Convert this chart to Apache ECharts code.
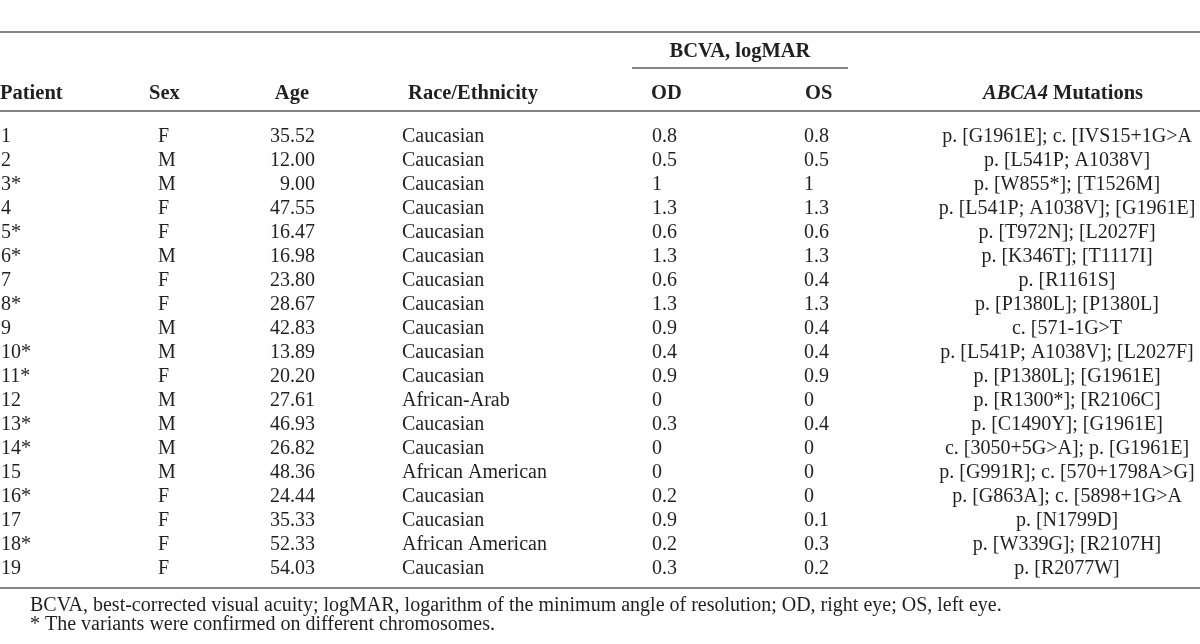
<!DOCTYPE html>
<html>
<head>
<meta charset="utf-8">
<script src="https://cdn.jsdelivr.net/npm/echarts@6/dist/echarts.min.js"></script>
<style>
html,body{margin:0;padding:0;background:#fff;}
#c{width:1200px;height:644px;}
</style>
</head>
<body>
<div id="c"></div>
<script>
// ---- data ----
var patients = ['1','2','3*','4','5*','6*','7','8*','9','10*','11*','12','13*','14*','15','16*','17','18*','19'];
var sex = ['F','M','M','F','F','M','F','F','M','M','F','M','M','M','M','F','F','F','F'];
var age = [35.52,12.00,9.00,47.55,16.47,16.98,23.80,28.67,42.83,13.89,20.20,27.61,46.93,26.82,48.36,24.44,35.33,52.33,54.03];
var race = ['Caucasian','Caucasian','Caucasian','Caucasian','Caucasian','Caucasian','Caucasian','Caucasian','Caucasian','Caucasian','Caucasian','African-Arab','Caucasian','Caucasian','African American','Caucasian','Caucasian','African American','Caucasian'];
var od = [0.8,0.5,1,1.3,0.6,1.3,0.6,1.3,0.9,0.4,0.9,0,0.3,0,0,0.2,0.9,0.2,0.3];
var os = [0.8,0.5,1,1.3,0.6,1.3,0.4,1.3,0.4,0.4,0.9,0,0.4,0,0,0,0.1,0.3,0.2];
var mutations = [
  'p. [G1961E]; c. [IVS15+1G>A',
  'p. [L541P; A1038V]',
  'p. [W855*]; [T1526M]',
  'p. [L541P; A1038V]; [G1961E]',
  'p. [T972N]; [L2027F]',
  'p. [K346T]; [T1117I]',
  'p. [R1161S]',
  'p. [P1380L]; [P1380L]',
  'c. [571-1G>T',
  'p. [L541P; A1038V]; [L2027F]',
  'p. [P1380L]; [G1961E]',
  'p. [R1300*]; [R2106C]',
  'p. [C1490Y]; [G1961E]',
  'c. [3050+5G>A]; p. [G1961E]',
  'p. [G991R]; c. [570+1798A>G]',
  'p. [G863A]; c. [5898+1G>A',
  'p. [N1799D]',
  'p. [W339G]; [R2107H]',
  'p. [R2077W]'
];
var headerLabels = ['Patient','Sex','Age','Race/Ethnicity','OD','OS','Mutations'];
var groupLabel = 'BCVA, logMAR';
var geneLabel = 'ABCA4';
var footnotes = [
  'BCVA, best-corrected visual acuity; logMAR, logarithm of the minimum angle of resolution; OD, right eye; OS, left eye.',
  '* The variants were confirmed on different chromosomes.'
];

// ---- layout (column anchors on x scale) ----
var FONT = "'Liberation Serif','DejaVu Serif',serif";
var TXT = '#231f20';
var LINE = '#5a5a5a';
var FS = 20;
var HFS = 20.5;
var columns = [
  {vals: patients, x: 1, align: 'left'},
  {vals: sex, x: 158, align: 'left'},
  {vals: age.map(function(v){return v.toFixed(2);}), x: 315, align: 'right'},
  {vals: race, x: 402, align: 'left'},
  {vals: od.map(String), x: 652, align: 'left'},
  {vals: os.map(String), x: 804, align: 'left'},
  {vals: mutations, x: 1067, align: 'center'}
];
var headerPos = [
  {x: 0, align: 'left'},
  {x: 149, align: 'left'},
  {x: 309, align: 'right'},
  {x: 473, align: 'center'},
  {x: 651, align: 'left'},
  {x: 805, align: 'left'},
  {x: 1063, align: 'center'}
];

var series = columns.map(function(col){
  return {
    type: 'custom',
    coordinateSystem: 'cartesian2d',
    silent: true,
    data: col.vals.map(function(v, i){ return [col.x, i]; }),
    renderItem: function(params, api){
      var p = api.coord([api.value(0), api.value(1)]);
      return {
        type: 'text',
        x: p[0], y: p[1],
        style: {
          text: col.vals[params.dataIndex],
          fill: TXT,
          fontFamily: FONT,
          fontSize: FS,
          align: col.align,
          verticalAlign: 'middle'
        }
      };
    }
  };
});

var graphic = [];
function hline(x1, x2, y){
  graphic.push({type:'line', shape:{x1:x1,y1:y,x2:x2,y2:y}, style:{stroke:LINE, lineWidth:1.3}, silent:true});
}
hline(0, 1200, 32);
hline(632, 848, 68);
hline(0, 1200, 111);
hline(0, 1200, 588);

graphic.push({type:'text', x:740, y:52, style:{text:groupLabel, fill:TXT, font:'bold '+HFS+'px '+FONT, align:'center', verticalAlign:'middle'}});
headerLabels.forEach(function(h, i){
  var hp = headerPos[i];
  if (i === 6) {
    graphic.push({type:'text', x:hp.x, y:94, style:{
      text:'{i|'+geneLabel+'} '+h,
      fill:TXT, fontFamily:FONT, fontSize:HFS, fontWeight:'bold', align:'center', verticalAlign:'middle',
      rich:{i:{fontStyle:'italic', fontWeight:'bold', fontFamily:FONT, fontSize:HFS, fill:TXT}}
    }});
  } else {
    graphic.push({type:'text', x:hp.x, y:94, style:{text:h, fill:TXT, font:'bold '+HFS+'px '+FONT, align:hp.align, verticalAlign:'middle'}});
  }
});
footnotes.forEach(function(f, i){
  graphic.push({type:'text', x:30, y:606 + i*19, style:{text:f, fill:TXT, font:'20px '+FONT, align:'left', verticalAlign:'middle'}});
});

var chart = echarts.init(document.getElementById('c'), null, {renderer:'canvas'});
chart.setOption({
  animation: false,
  backgroundColor: '#fff',
  grid: {left: 0, right: 0, top: 125, bottom: 63, containLabel: false},
  xAxis: {type: 'value', min: 0, max: 1200, show: false},
  yAxis: {type: 'category', data: patients, inverse: true, show: false},
  series: series,
  graphic: graphic
});
</script>
</body>
</html>
